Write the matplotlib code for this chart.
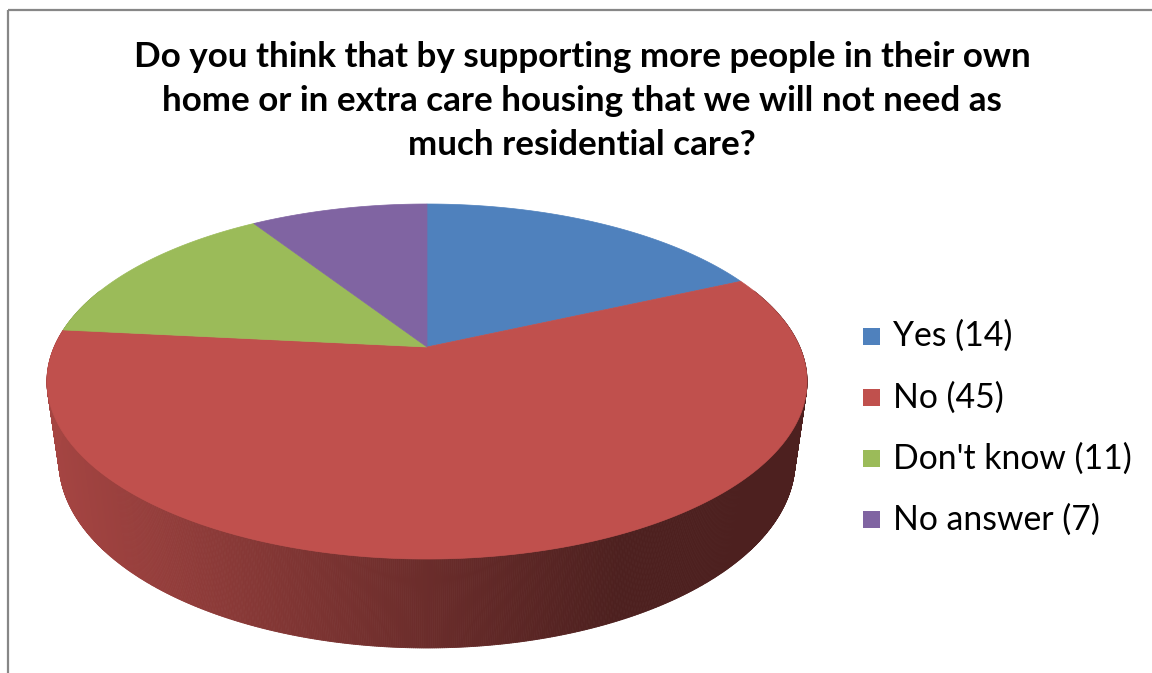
import numpy as np
import matplotlib
matplotlib.use('Agg')
import matplotlib.pyplot as plt
from matplotlib.collections import PolyCollection
from matplotlib.patches import Polygon, Rectangle
from matplotlib.colors import to_rgb

# data
categories = ['Yes', 'No', "Don't know", 'No answer']
counts = [14, 45, 11, 7]
colors = ['#4F81BD', '#C0504D', '#9BBB59', '#8064A2']
title_lines = ['Do you think that by supporting more people in their own',
               'home or in extra care housing that we will not need as',
               'much residential care?']

W, H = 1152, 673

# simple perspective camera for the 3d pie, in pixel units
cx, cy = 427, 347          # projected centre of the top face
A, B = 372.8, 170.8        # horizontal / depth scale
k = 0.1944                 # perspective on depth axis
drop = 81.1                # height of the cylinder wall
p = 0.0314                 # bottom face is a bit further away


def rim(theta, bottom=False):
    # theta in radians, clockwise from 12 o'clock
    u = np.sin(theta)
    v = np.cos(theta)
    if bottom:
        w = 1 + k * v + p
        return cx + A * u / w, cy + (-B * v + drop) / w
    w = 1 + k * v
    return cx + A * u / w, cy - B * v / w


def shade(x):
    # side wall gets darker to the right
    return np.clip(0.86 - 0.0008 * (x - 47), 0.40, 0.86)


fig = plt.figure(figsize=(W / 100, H / 100), dpi=100)
ax = fig.add_axes([0, 0, 1, 1])
ax.set_xlim(0, W)
ax.set_ylim(H, 0)
ax.set_axis_off()

# chart border (only top and left edges are in the picture)
ax.plot([8, W], [10, 10], color='#878787', lw=1.6, solid_capstyle='butt')
ax.plot([8, 8], [10, H], color='#878787', lw=1.6, solid_capstyle='butt')

fractions = np.array(counts) / sum(counts)
bounds = np.concatenate([[0], np.cumsum(fractions)]) * 2 * np.pi

# side wall, built from thin quads so it can carry the shading
thetas = np.linspace(0, 2 * np.pi, 1441)
quads, qcols = [], []
for t0, t1 in zip(thetas[:-1], thetas[1:]):
    if np.cos((t0 + t1) / 2) > 0.35:
        continue
    x0, y0 = rim(t0)
    x1, y1 = rim(t1)
    x2, y2 = rim(t1, True)
    x3, y3 = rim(t0, True)
    quads.append([(x0, y0), (x1, y1), (x2, y2), (x3, y3)])
    idx = np.searchsorted(bounds, (t0 + t1) / 2) - 1
    base = np.array(to_rgb(colors[idx]))
    qcols.append(base * shade((x0 + x1) / 2))
ax.add_collection(PolyCollection(quads, facecolors=qcols, edgecolors=qcols,
                                 linewidths=0.6))

# top face slices
for i, col in enumerate(colors):
    ts = np.linspace(bounds[i], bounds[i + 1], 200)
    xs, ys = rim(ts)
    pts = [(cx, cy)] + list(zip(xs, ys))
    ax.add_patch(Polygon(pts, closed=True, facecolor=col, edgecolor=col, lw=0.5))

# title
for j, line in enumerate(title_lines):
    ax.text(582, 57 + 44 * j, line, ha='center', va='center',
            fontsize=25.2, fontweight='bold', family='Lato', color='black')

# legend
for j, (cat, n, col) in enumerate(zip(categories, counts, colors)):
    yc = 336 + 61.3 * j
    ax.add_patch(Rectangle((863, yc - 8.5), 17, 17, facecolor=col, edgecolor='none'))
    ax.text(893, yc, f'{cat} ({n})', ha='left', va='center',
            fontsize=24.3, family='Lato', color='black')

fig.savefig('out.png', dpi=100)
